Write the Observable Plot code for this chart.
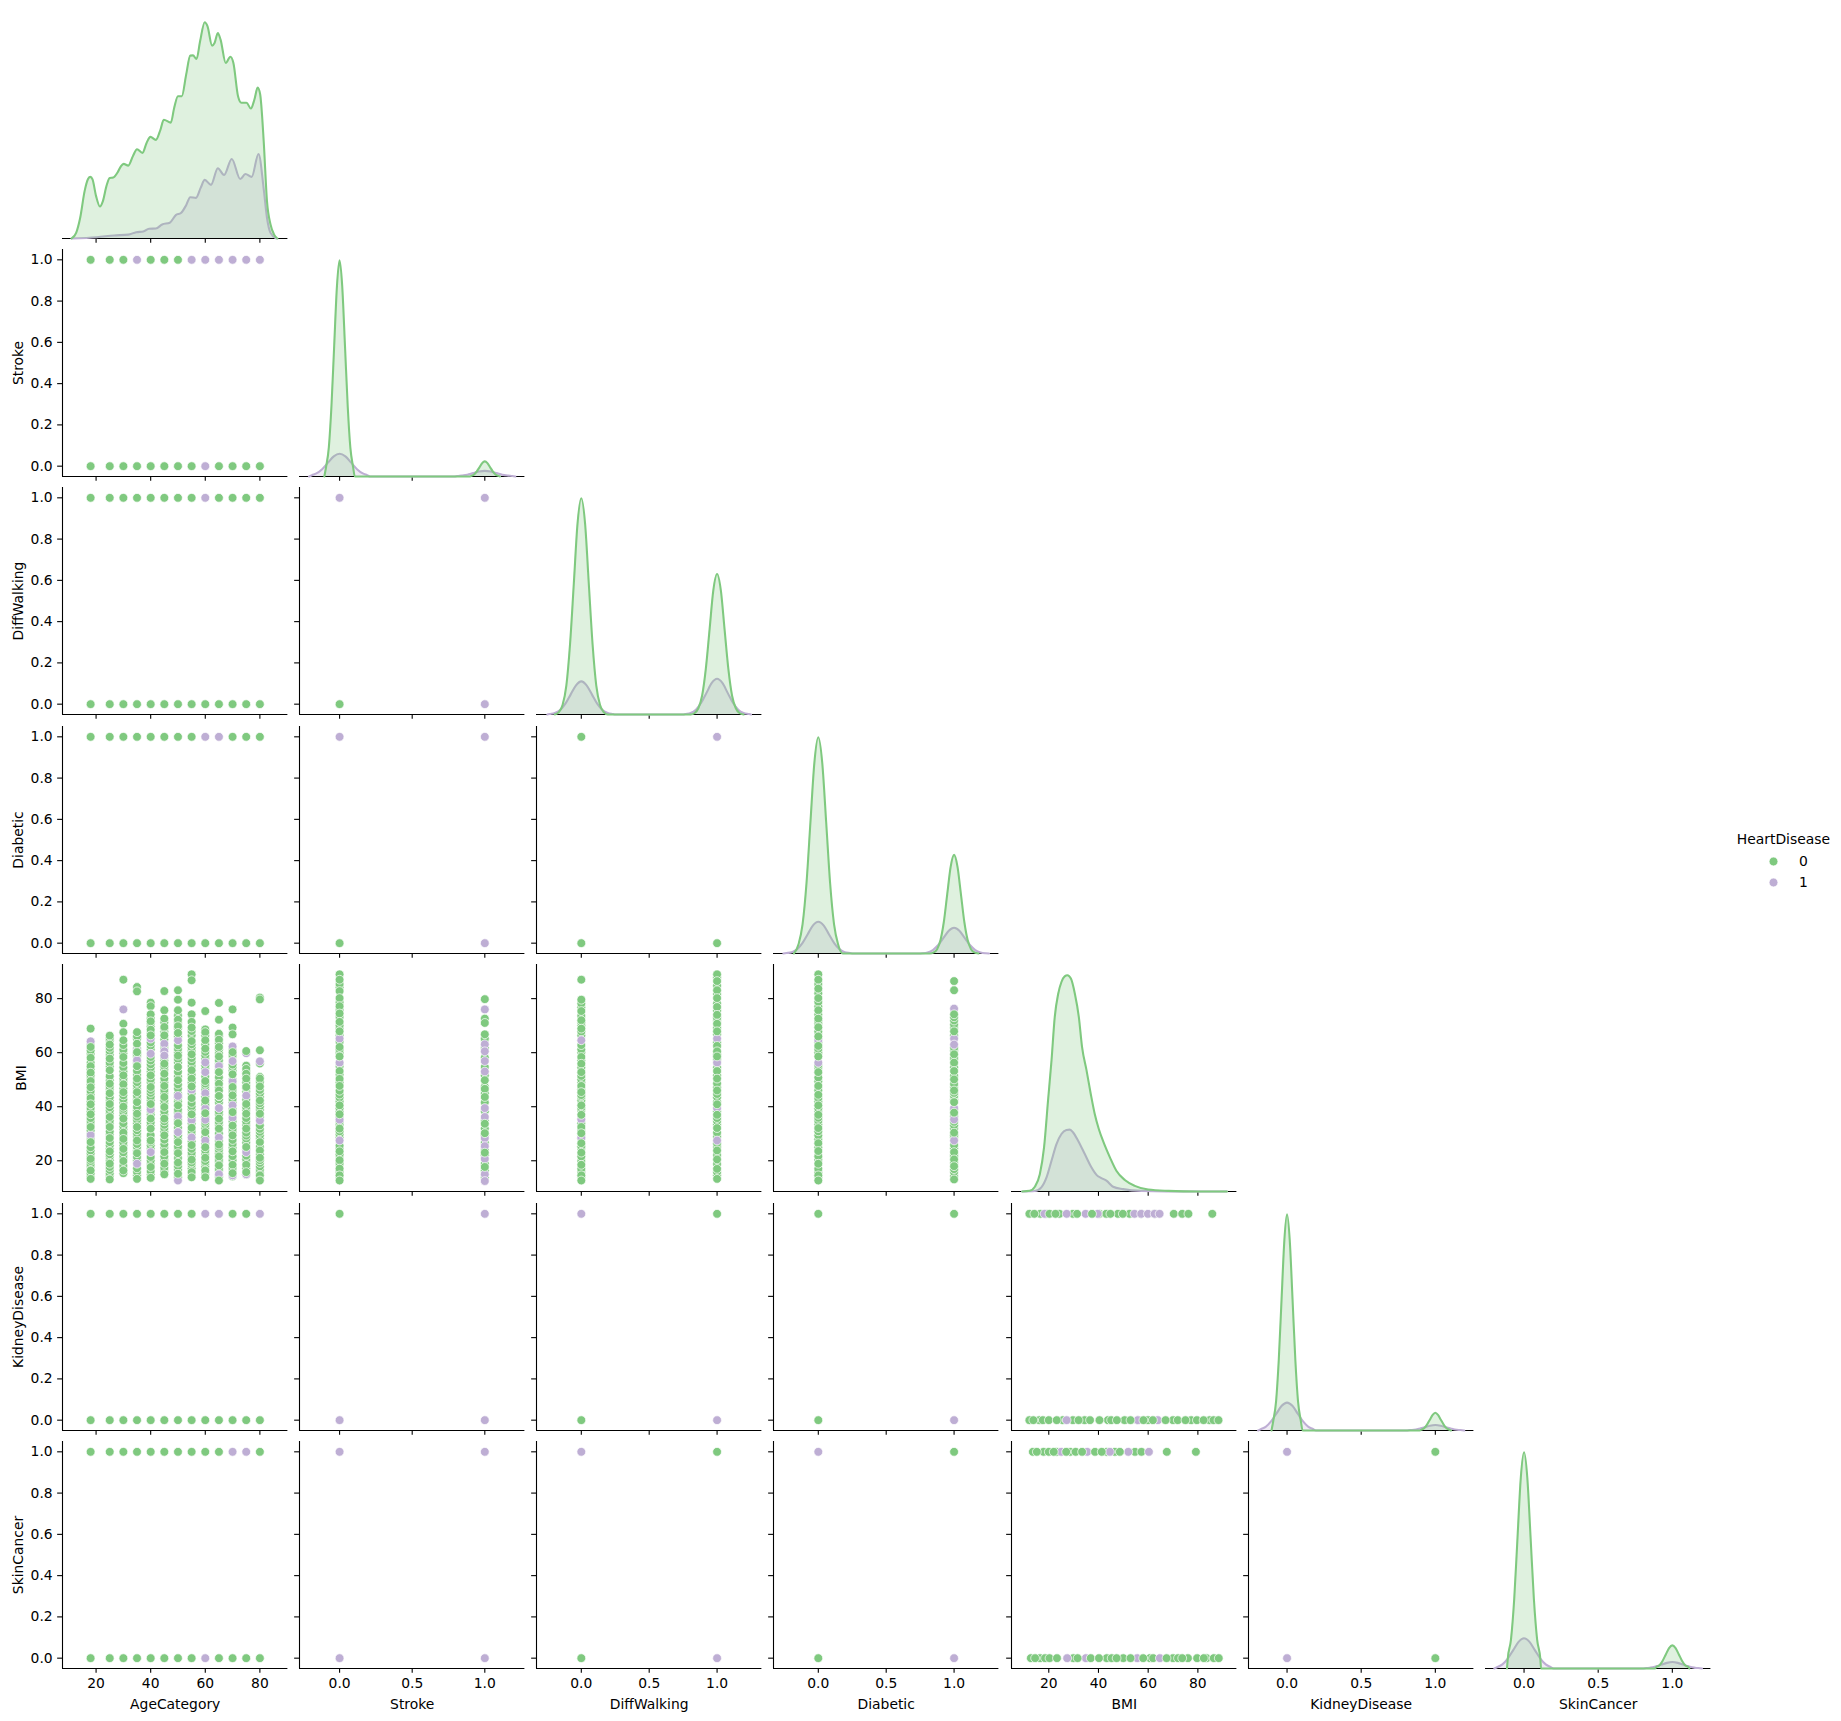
<!DOCTYPE html>
<html>
<head>
<meta charset="utf-8">
<script src="https://cdn.jsdelivr.net/npm/d3@7"></script>
<script src="https://cdn.jsdelivr.net/npm/@observablehq/plot@0.6"></script>
<style>
html,body{margin:0;padding:0;background:#fff}
#chart{position:relative;width:1841px;height:1721px;overflow:hidden}
#chart svg{position:absolute;overflow:visible;background:transparent}
</style>
</head>
<body>
<div id="chart"></div>
<script>
const variables = ["AgeCategory","Stroke","DiffWalking","Diabetic","BMI","KidneyDisease","SkinCancer"];
const hueValues = [0,1];
const hueColors = ["#7fc97f","#beaed4"];
const binaryTicks = [0,0.2,0.4,0.6,0.8,1];
const binaryXTicks = [0,0.5,1];
const bmiTicks = [20,40,60,80];
const ageTicks = [20,40,60,80];
const ages = [18,25,30,35,40,45,50,55,60,65,70,75,80];

// hue of the dot that ends up on top at (age, flag)
const ageStroke1 = [0,0,0,1,0,0,0,1,1,1,1,1,1];
const ageStroke0 = [0,0,0,0,0,0,0,0,1,0,0,0,0];
const ageWalk1   = [0,0,0,0,0,0,0,0,1,0,0,0,0];
const ageWalk0   = [0,0,0,0,0,0,0,0,0,0,0,0,0];
const ageDiab1   = [0,0,0,0,0,0,0,0,1,1,0,0,0];
const ageDiab0   = [0,0,0,0,0,0,0,0,0,0,0,0,0];
const ageKidney1 = [0,0,0,0,0,0,0,0,1,1,0,0,1];
const ageKidney0 = [0,0,0,0,0,0,0,0,0,0,0,0,0];
const ageSkin1   = [0,0,0,0,0,0,0,0,0,0,1,1,0];
const ageSkin0   = [0,0,0,0,0,0,0,0,1,0,0,0,0];

// hue on top at (x=0,y=1), (1,1), (0,0), (1,0)
const strokeWalk   = [1,1,0,1];
const strokeDiab   = [1,1,0,1];
const strokeKidney = [0,1,1,1];
const strokeSkin   = [1,1,1,1];
const walkDiab     = [0,1,0,0];
const walkKidney   = [1,0,0,1];
const walkSkin     = [1,0,0,1];
const diabKidney   = [0,0,0,1];
const diabSkin     = [1,0,0,1];
const kidneySkin   = [1,0,1,0];

// BMI by age: back layer (green), purple, front layer (green)
const bmi18Back = [14.2,15.3,16.8,17.9,18.8,19.9,21.6,22.7,23.8,25,27.8,28.9,30.1,31.2,33.6,34.7,35.8,38.3,39.5,42,44.4,45.8,48.3,50.7,51.6,53.9,56.3,59.6,60.8,63.2];
const bmi25Back = [14.5,15.4,16.6,17.7,20.2,21.6,22.4,24.6,25.7,26.9,29.6,30.8,33.7,34.8,37.4,38.6,39.8,42.2,43.5,46.3,47.4,49.8,51.3,54.9,56.3,59.2,60.6,61.8,64.6,65.4];
const bmi30Back = [15.4,16.9,18.1,20.9,21.8,23.1,25.6,26.8,29.2,31.6,32.7,33.9,36.8,38.1,39.2,41.5,42.8,44.2,46.7,49.6,50.4,53.1,54.6,56.2,59.7,61.1,62.8];
const bmi35Back = [14.6,15.9,17.2,20.2,21.4,23.8,25.1,26.2,28.9,30.1,31.3,33.8,35.2,36.3,38.7,39.9,42.8,44.1,46.6,47.9,49.1,51.8,53.3,56.2,58.6,59.4,61.5,65.2,66.1];
const bmi40Back = [14.9,16.2,18.8,20.1,21.4,24.4,25.7,26.9,28.2,29.5,33.1,34.2,37.1,38.4,39.6,42.4,43.7,45.1,46.2,49.1,50.2,53,54.4,55.7,57.1,58.4,61.2,62.6,63.8,67.1,69.8,70.9,72.8];
const bmi45Back = [16.2,17.4,20.3,21.6,24.8,26.1,27.8,30.8,32.1,33.3,34.6,37.1,38.3,41.2,42.4,45.1,46.2,49,50.4,53.7,55,57.1,58.4,61.8,62.8,64.9,67.9,69,71.2];
const bmi50Back = [13.9,16.7,18,21,23.9,25.2,28.1,29.4,31,32.2,35.1,37.8,38.9,42,43.4,44.8,46.7,48.2,51.2,52.9,56.4,57.7,60.1,61.4,62.7,66,69,71,73.8];
const bmi55Back = [14.4,17.1,18.6,19.4,21.8,23,24.4,27.1,29.9,31,33.8,35.4,36.1,39,40.1,41.4,44.9,46.3,49,51.8,55.1,56.6,58,60.7,61.9,63.1,66.4,68];
const bmi60Back = [14.9,15.6,17.8,19.2,19.9,22.5,23.8,26.4,28.7,31.9,33.4,34.4,36.1,39,40.5,41,43.8,46.2,47.8,48.6,51.1,54.1,55.3,57.8,59,60.3,63,66.4,68.6];
const bmi65Back = [14.1,16.4,17,19.6,20.4,22.8,24.1,25.2,27.4,30.1,33.3,34.3,37.2,38.2,41.6,42.8,43.9,47.1,49.7,50.9,53.8,55.9,57.2,59.9,61.3,63.5,66.1];
const bmi70Back = [14.2,16.7,17.4,20.2,21.7,24.9,26.2,27.7,30.8,31.8,34.6,36.9,39.2,41.6,42.9,45.6,46.4,48.8,49.9,53.4,54.6,55.6,58.6,59.2,61.4];
const bmi75Back = [14.9,17.2,19.6,20.6,21.9,24.2,26.7,28.2,29.3,30.4,33.2,34.5,35.8,38.8,39.9,42.6,45.6,46.8,47.9,49.1,51.2,52.5,53,55.2];
const bmi80Back = [13.6,15.6,16.7,17.9,19.2,20.2,22.4,25.1,28.2,29.4,30.7,31.8,33.1,36.2,38.9,40.1,41.3,43.7,45,46.2,49.2,51,56];
const bmi18Purple = [64.2,29.5];
const bmi25Purple = [];
const bmi30Purple = [76];
const bmi35Purple = [57.2,18.9,60.8];
const bmi40Purple = [65.2,59.6,23.2,39];
const bmi45Purple = [63.3,60.5,58.9];
const bmi50Purple = [64.6,44,36.4,30.6,12.7];
const bmi55Purple = [46.2,35,28.6];
const bmi60Purple = [56.4,52.8,45,39.3,35.2,27.5];
const bmi65Purple = [55,39.5,28.6,15];
const bmi70Purple = [62.3,56.9,49.4,40.5,35.9,14.6];
const bmi75Purple = [59.8,44.1,23.2,15];
const bmi80Purple = [56.8,34.9];
const bmi18Front = [68.9,62.1,58.1,55,52.6,49.5,47.2,43.2,40.9,37.2,32.5,26.9,20.7,16.4,13.3];
const bmi25Front = [66.3,63,57.8,53.5,48.5,45,41,36.2,32.5,28.4,23.5,18.9,13.1];
const bmi30Front = [87,70.7,67.6,64.6,58.4,51.6,48.3,45.4,40,35.6,30.4,28.1,24.4,19.9,16.4];
const bmi35Front = [84.3,82.7,67.6,63.3,60.2,55,50.4,45.4,41.7,37.4,32.5,27.5,22.8,13.3];
const bmi40Front = [78.5,77.2,74.2,71.6,68.5,66.4,51.6,47.3,41,35.6,31.9,27.5,17.7,13.7];
const bmi45Front = [82.8,75.7,72.6,69.5,66.4,55.9,52.2,47.7,43.6,39.9,35.6,29.4,23.2,18.9,15];
const bmi50Front = [83.1,79.6,75.7,72.2,69.8,67.3,58.9,54.7,49.8,40.5,33.9,26.9,22.8,19.3,15.2];
const bmi55Front = [89,86.8,78.5,74.2,71.4,69.3,64.3,59.4,53.5,50.4,47.5,43.2,37.2,32.2,25.8,20.4,15.8,13.9];
const bmi60Front = [75.4,67.6,64.6,61.5,49.5,42.3,37.6,30.6,25,21.1,16.4,13.9];
const bmi65Front = [78.4,72.2,67,64.8,62.1,58.6,52.8,48.5,46,44,35.6,31.9,26,21.6,18.3,12.7];
const bmi70Front = [76,69.3,66.8,60.2,52,47.3,44.2,38,33,29.4,23.5,18.5,15.4];
const bmi75Front = [60.6,54,52.2,50.4,47.3,41,37.4,31.9,25.1,18.5,15.8];
const bmi80Front = [80.4,79.7,60.9,50.4,47.5,42.3,37.4,26.9,23.8,21.1,14.6,12.7];

// dense stacks of BMI at each flag value
const bmiStroke0Back = [13.8,15.8,16.3,18.8,19.2,21.8,22.4,24.7,25.6,28.6,29.8,30.9,33.4,34.5,36,38.2,39.4,42,43.4,44.5,45.9,49,51.9,55,56.2,60.2,61.2,64,66.4,69.2,70.1,73.2,75.8,78.7,84.2,85.4];
const bmiStroke0Purple = [65.2,56.3,35.2,27.5];
const bmiStroke0Front = [89,87,82.8,80.2,77.2,74.5,71.4,67.9,62.1,58.6,53.2,50.3,47.7,40.5,37.2,31.9,23.5,20.2,17.1,14.6,12.7];
const bmiStroke1Back = [13.8,16.4,18.9,22,24,26.7,29.4,31.9,34.8,38.3,41.6,45,47.4,51.6,54.7,58.2,61.8,64.9,65.2];
const bmiStroke1Purple = [76,63.1,60.5,56.9,53,39.5,36.2,28.4,25.4,20.7,15,12.5];
const bmiStroke1Front = [79.8,72.6,71,66.8,49.8,46.6,43.6,33.7,30.2,23,17.7];
const bmiWalk0Back = [13.8,15.9,17,19.9,21.6,24.7,25.4,28.3,29.2,31.4,33.9,35.6,38.8,39.6,42.4,43.7,44.3,46.5,49,50.1,51.4,54.5,57.1,60.1,61.2,62.8,66.4,67.8,70.1,71.2,73.6,76.8,78.2];
const bmiWalk0Purple = [64.6,35.3,28.5];
const bmiWalk0Front = [87,79.6,75.4,72,68.9,58.4,55.9,52.8,47.7,45.4,40.5,37,32.5,30.2,26.5,23,18.5,14.6,12.7];
const bmiWalk1Back = [14.6,15.8,18.8,22.1,25.1,26.4,28.9,30.4,33.4,34.7,35.8,38.3,41.8,43.5,44.7,47.2,48.6,51.6,54.5,57.4,59.4,63.8,66.8,69.2,71.8,72.9,75.6,78.2,81.7,84.8,87.8];
const bmiWalk1Purple = [65.2,56.3,39.5,27.5];
const bmiWalk1Front = [89,86.5,83.1,80.2,76.9,74,70.7,67.9,62.5,60.5,58.6,53.2,50.4,46,40.9,37,32.1,23.8,20.5,17,13.3];
const bmiDiab0Back = [13.8,15.8,17,20.4,21.7,24.9,28,29.4,30.9,33.4,34.8,35.9,38.4,39.4,42,43.2,46.1,49.4,50.8,54.4,55.4,60.2,61.4,63.8,67.8,70.8,71.8,74.1,77.1,78.8,82,85.4];
const bmiDiab0Purple = [64.7,56.3];
const bmiDiab0Front = [89,87,83.7,80.2,75.7,72.6,69.4,66,62.5,58.6,52.8,47.7,44.4,40.5,37,32.1,26.5,23.6,18.9,14.6,12.7];
const bmiDiab1Back = [14.4,15.8,16.9,19.2,21.6,22.1,24.6,25.8,28.7,29.4,31.9,33.1,34.4,36.4,39,42.8,44,45.1,47.3,48.4,51.4,54.6,57.6,58.1,60.8,61.8,66.4,69.2,70.4,71.9,73.1];
const bmiDiab1Purple = [76.3,65.2,63,39.5,35.3,27.5];
const bmiDiab1Front = [86.5,83.1,74.2,67.9,59.4,56.3,53.2,50.1,46,41.7,37.8,30.4,23.2,20.5,18,13.1];

// BMI along the flag rows
const bmiKidney1Back = [16.6,18.9,24.3,29.7,40.4,43.1,47.8,52.5,57.2,62.6];
const bmiKidney1Purple = [18.3,27.2,34.8,39.7,54.5,57.2,59.9,62.6,64.6];
const bmiKidney1Front = [12.2,14.2,20.3,22.7,31.4,37.4,44.8,49.8,70.3,73.7,76.2,85.8];
const bmiKidney0Back = [16.2,17.6,25.6,29.7,34.4,43.8,45.1,50.5,55.8,59.9,70,77.3,84.7];
const bmiKidney0Purple = [27.2,55.8,63.9];
const bmiKidney0Front = [12.2,13.8,20,23.2,32,36.6,40.4,47.4,52.9,58.1,61.9,67,71.9,75,79.6,82.3,86.3,88.3];
const bmiSkin1Back = [13.6,17.9,23.2,28.6,43.3,46.6,54.7,57.3];
const bmiSkin1Purple = [25,35.5,44.6,52,60.3];
const bmiSkin1Front = [15.2,20,22,27,30.8,33.4,38.6,41.3,48.6,67.5,79.2];
const bmiSkin0Back = [16.5,18.5,29.9,43.3,45.3,50,60.7,62,70,72,76,83.5];
const bmiSkin0Purple = [27.4,34.9,55.6,64.7];
const bmiSkin0Front = [12.8,14.5,20.3,23.3,31.6,36.9,40.2,47.3,52.9,58,67.4,73.7,79.7,82.4,86.4,88.4];

// density curves read from the diagonal (peak of the tallest curve = 1)
const ageGreenX = [11.05,12.7,14.2,15.8,17.1,17.9,18.7,20,21.4,22.5,23.8,25,26.3,27.8,29.1,30.1,31.8,33.5,35,37,38.5,39.9,41.9,43.6,44.8,47.4,48.6,50,51.4,53,54.5,55.5,56.8,58.1,59.8,60.8,62.5,63.4,64.6,65.6,67.5,69.2,70.3,72,73.2,75.1,76.7,78,79.2,80.1,81.4,82.6,83.9,85.2,86.4];
const ageGreenY = [0,.026,.097,.219,.276,.285,.273,.196,.148,.173,.243,.28,.282,.304,.334,.345,.337,.381,.413,.396,.442,.47,.456,.504,.549,.536,.604,.658,.658,.758,.846,.847,.83,.912,1,.982,.892,.904,.95,.92,.812,.841,.812,.658,.628,.628,.601,.643,.698,.667,.45,.173,.065,.018,0];
const agePurpleX = [11.05,20.3,26.6,31.8,34.7,37.3,39.4,41.9,44.2,47,49.2,51.1,53,54.5,56.6,58.3,59.8,62.1,64.6,66.9,69.7,72.8,74.7,77,79.5,81.4,82.6,83.9,86];
const agePurpleY = [0,.006,.014,.018,.029,.032,.045,.046,.065,.073,.108,.118,.154,.191,.188,.234,.271,.248,.325,.294,.368,.275,.298,.285,.391,.23,.096,.026,0];
const bmiGreenX = [9.3,12.3,14.4,16.4,18.1,19.7,21.1,22.4,23.8,25.1,26.4,27.5,28.9,30.5,32.1,33.4,35.2,36.9,38.5,40.1,42.3,44.6,47.2,50.6,54.6,60,68.1,80.1,91.7];
const bmiGreenY = [0,.003,.022,.08,.204,.42,.606,.807,.915,.969,.995,1,.985,.915,.807,.668,.56,.451,.358,.29,.22,.158,.096,.053,.026,.009,.003,0,0];
const bmiPurpleX = [9.3,14.4,17,19.1,21.1,23.1,25.1,27.1,28.5,29.8,31.8,34.5,37.2,39.2,41.2,43.2,45.9,49.9,57.3,77.4,91.7];
const bmiPurpleY = [0,.002,.019,.065,.142,.219,.266,.284,.286,.273,.235,.173,.111,.077,.062,.05,.022,.011,.003,0,0];

const strokeGreenX = [-.105,-.093,-.074,-.056,-.037,-.018,0,.018,.037,.056,.074,.093,.105,.895,.907,.926,.944,.963,.982,1,1.018,1.037,1.056,1.074,1.093,1.105];
const strokeGreenY = [0,.044,.135,.325,.607,.882,1,.882,.607,.325,.135,.044,0,0,.003,.009,.023,.042,.062,.07,.062,.042,.023,.009,.003,0];
const strokePurpleX = [-.21,-.19,-.16,-.12,-.08,-.04,0,.04,.08,.12,.16,.19,.21,.79,.81,.84,.88,.92,.96,1,1.04,1.08,1.12,1.16,1.19,1.21];
const strokePurpleY = [0,.006,.014,.034,.064,.093,.105,.093,.064,.034,.014,.006,0,0,.002,.004,.008,.016,.023,.026,.023,.016,.008,.004,.002,0];

const walkGreenX = [-.195,-.165,-.138,-.11,-.083,-.055,-.028,0,.028,.055,.083,.11,.138,.165,.195,.805,.835,.862,.89,.917,.945,.972,1,1.028,1.055,1.083,1.11,1.138,1.165,1.195];
const walkGreenY = [0,.011,.044,.135,.325,.607,.882,1,.882,.607,.325,.135,.044,.011,0,0,.007,.029,.088,.211,.395,.573,.65,.573,.395,.211,.088,.029,.007,0];
const walkPurpleX = [-.25,-.234,-.195,-.156,-.117,-.078,-.039,0,.039,.078,.117,.156,.195,.234,.25,.75,.766,.805,.844,.883,.922,.961,1,1.039,1.078,1.117,1.156,1.195,1.234,1.25];
const walkPurpleY = [0,.002,.007,.021,.05,.093,.135,.153,.135,.093,.05,.021,.007,.002,0,0,.002,.007,.022,.054,.1,.146,.165,.146,.1,.054,.022,.007,.002,0];

const diabGreenX = [-.18,-.145,-.116,-.087,-.058,-.029,0,.029,.058,.087,.116,.145,.18,.82,.85,.875,.9,.925,.95,.975,1,1.025,1.05,1.075,1.1,1.125,1.15,1.18];
const diabGreenY = [0,.044,.135,.325,.607,.882,1,.882,.607,.325,.135,.044,0,0,.005,.02,.062,.148,.277,.402,.456,.402,.277,.148,.062,.02,.005,0];
const diabPurpleX = [-.257,-.234,-.195,-.156,-.117,-.078,-.039,0,.039,.078,.117,.156,.195,.234,.257,.743,.766,.805,.844,.883,.922,.961,1,1.039,1.078,1.117,1.156,1.195,1.234,1.257];
const diabPurpleY = [0,.002,.006,.02,.048,.089,.13,.147,.13,.089,.048,.02,.006,.002,0,0,.001,.005,.016,.039,.072,.105,.119,.105,.072,.039,.016,.005,.001,0];

const kidneyGreenX = [-.105,-.093,-.074,-.056,-.037,-.018,0,.018,.037,.056,.074,.093,.105,.895,.907,.926,.944,.963,.982,1,1.018,1.037,1.056,1.074,1.093,1.105];
const kidneyGreenY = [0,.044,.135,.325,.607,.882,1,.882,.607,.325,.135,.044,0,0,.004,.011,.027,.05,.072,.082,.072,.05,.027,.011,.004,0];
const kidneyPurpleX = [-.195,-.171,-.144,-.108,-.072,-.036,0,.036,.072,.108,.144,.171,.195,.805,.829,.856,.892,.928,.964,1,1.036,1.072,1.108,1.144,1.171,1.195];
const kidneyPurpleY = [0,.008,.017,.042,.078,.114,.129,.114,.078,.042,.017,.008,0,0,.002,.003,.008,.015,.022,.025,.022,.015,.008,.003,.002,0];

const skinGreenX = [-.115,-.11,-.088,-.066,-.044,-.022,0,.022,.044,.066,.088,.11,.115,.885,.89,.912,.934,.956,.978,1,1.022,1.044,1.066,1.088,1.11,1.115];
const skinGreenY = [0,.044,.135,.325,.607,.882,1,.882,.607,.325,.135,.044,0,0,.005,.014,.035,.065,.094,.107,.094,.065,.035,.014,.005,0];
const skinPurpleX = [-.2,-.175,-.146,-.11,-.073,-.037,0,.037,.073,.11,.146,.175,.2,.8,.825,.854,.89,.927,.963,1,1.037,1.073,1.11,1.146,1.175,1.2];
const skinPurpleY = [0,.008,.019,.046,.085,.123,.14,.123,.085,.046,.019,.008,0,0,.002,.004,.01,.018,.026,.03,.026,.018,.01,.004,.002,0];

// --- helpers ---
const zip = (xs, ys) => xs.map((x, i) => ({x, y: ys[i]}));
const colorScale = {type: "ordinal", domain: hueValues, range: hueColors};
const dotR = 4.4, dotEdge = 0.7;
const dotLayer = rows => Plot.dot(rows, {x: "x", y: "y", r: dotR, fill: "h", stroke: "white", strokeWidth: dotEdge});
const col = (x, ys, h) => ys.map(y => ({x, y, h}));
const row = (y, xs, h) => xs.map(x => ({x, y, h}));
const stack = (build, at, back, purple, front) => [dotLayer(build(at, back, 0)), dotLayer(build(at, purple, 1)), dotLayer(build(at, front, 0))];
const flagRow = (y, hues) => ages.map((x, i) => ({x, y, h: hues[i]}));
const cornerDots = h => [{x:0,y:1,h:h[0]},{x:1,y:1,h:h[1]},{x:0,y:0,h:h[2]},{x:1,y:0,h:h[3]}];
const kde = (gx, gy, px, py) => {
  const g = zip(gx, gy), p = zip(px, py), curve = "monotone-x";
  return [
    Plot.areaY(p, {x: "x", y1: 0, y2: "y", fill: hueColors[1], fillOpacity: 0.25, curve}),
    Plot.line(p, {x: "x", y: "y", stroke: hueColors[1], strokeWidth: 2.08, curve}),
    Plot.areaY(g, {x: "x", y1: 0, y2: "y", fill: hueColors[0], fillOpacity: 0.25, curve}),
    Plot.line(g, {x: "x", y: "y", stroke: hueColors[0], strokeWidth: 2.08, curve})
  ];
};

// --- layout of the grid ---
const colLeft = c => Math.round(62.1 + 237.1 * c);
const rowBottom = r => Math.round(237.5 + 238.4 * r);
const panelW = 225.4, panelH = 227;
const ml = 56, mr = 6, mt = 6, mb = 60;
const ageDomain = [7.7, 90.26], bmiXDomain = [5, 95.7], bmiYDomain = [8.63, 92.63];
const xDomains = [ageDomain, [-0.276,1.276], [-0.33,1.33], [-0.33,1.33], bmiXDomain, [-0.26,1.26], [-0.26,1.26]];
const xTicks = [ageTicks, binaryXTicks, binaryXTicks, binaryXTicks, bmiTicks, binaryXTicks, binaryXTicks];
const isInt = i => i === 0 || i === 4;
const yDomain = i => i === 4 ? bmiYDomain : [-0.05, 1.05];
const yTicks = i => i === 4 ? bmiTicks : binaryTicks;

const root = document.getElementById("chart");
function panel(r, c, marks) {
  const diag = r === c;
  const last = r === variables.length - 1;
  const first = c === 0;
  const xd = xDomains[c];
  const axes = [
    Plot.ruleY([diag ? 0 : yDomain(r)[0]], {stroke: "black", strokeWidth: 1.1}),
    last
      ? Plot.axisX({ticks: xTicks[c], tickSize: 4.86, tickPadding: 5, strokeWidth: 1.1, stroke: "black", fill: "black",
          tickFormat: isInt(c) ? d3.format("d") : d3.format(".1f"),
          label: variables[c], labelAnchor: "center", labelArrow: "none", labelOffset: 41})
      : Plot.axisX({ticks: xTicks[c], tickSize: 4.86, strokeWidth: 1.1, stroke: "black", fill: "none", label: null})
  ];
  if (!diag) {
    axes.push(Plot.ruleX([xd[0]], {stroke: "black", strokeWidth: 1.1}));
    axes.push(first
      ? Plot.axisY({ticks: yTicks(r), tickSize: 4.86, tickPadding: 5, strokeWidth: 1.1, stroke: "black", fill: "black",
          tickFormat: isInt(r) ? d3.format("d") : d3.format(".1f"),
          label: variables[r], labelAnchor: "center", labelArrow: "none", labelOffset: r === 4 ? 46.5 : 49.5})
      : Plot.axisY({ticks: yTicks(r), tickSize: 4.86, strokeWidth: 1.1, stroke: "black", fill: "none", label: null}));
  }
  const svg = Plot.plot({
    width: panelW + ml + mr, height: panelH + mt + mb,
    marginLeft: ml, marginRight: mr, marginTop: mt, marginBottom: mb,
    x: {domain: xd},
    y: diag ? {domain: [0, 1.05], axis: null} : {domain: yDomain(r)},
    color: colorScale,
    style: {fontFamily: "'DejaVu Sans', sans-serif", fontSize: "13.9px", color: "black", background: "transparent", overflow: "visible"},
    marks: [...axes, ...marks]
  });
  svg.style.left = (colLeft(c) - ml) + "px";
  svg.style.top = (rowBottom(r) - panelH - mt) + "px";
  root.appendChild(svg);
}

// diagonal
panel(0,0,kde(ageGreenX,ageGreenY,agePurpleX,agePurpleY));
panel(1,1,kde(strokeGreenX,strokeGreenY,strokePurpleX,strokePurpleY));
panel(2,2,kde(walkGreenX,walkGreenY,walkPurpleX,walkPurpleY));
panel(3,3,kde(diabGreenX,diabGreenY,diabPurpleX,diabPurpleY));
panel(4,4,kde(bmiGreenX,bmiGreenY,bmiPurpleX,bmiPurpleY));
panel(5,5,kde(kidneyGreenX,kidneyGreenY,kidneyPurpleX,kidneyPurpleY));
panel(6,6,kde(skinGreenX,skinGreenY,skinPurpleX,skinPurpleY));

// age column
panel(1,0,[dotLayer([...flagRow(1,ageStroke1),...flagRow(0,ageStroke0)])]);
panel(2,0,[dotLayer([...flagRow(1,ageWalk1),...flagRow(0,ageWalk0)])]);
panel(3,0,[dotLayer([...flagRow(1,ageDiab1),...flagRow(0,ageDiab0)])]);
panel(4,0,[
  ...stack(col,18,bmi18Back,bmi18Purple,bmi18Front),
  ...stack(col,25,bmi25Back,bmi25Purple,bmi25Front),
  ...stack(col,30,bmi30Back,bmi30Purple,bmi30Front),
  ...stack(col,35,bmi35Back,bmi35Purple,bmi35Front),
  ...stack(col,40,bmi40Back,bmi40Purple,bmi40Front),
  ...stack(col,45,bmi45Back,bmi45Purple,bmi45Front),
  ...stack(col,50,bmi50Back,bmi50Purple,bmi50Front),
  ...stack(col,55,bmi55Back,bmi55Purple,bmi55Front),
  ...stack(col,60,bmi60Back,bmi60Purple,bmi60Front),
  ...stack(col,65,bmi65Back,bmi65Purple,bmi65Front),
  ...stack(col,70,bmi70Back,bmi70Purple,bmi70Front),
  ...stack(col,75,bmi75Back,bmi75Purple,bmi75Front),
  ...stack(col,80,bmi80Back,bmi80Purple,bmi80Front)
]);
panel(5,0,[dotLayer([...flagRow(1,ageKidney1),...flagRow(0,ageKidney0)])]);
panel(6,0,[dotLayer([...flagRow(1,ageSkin1),...flagRow(0,ageSkin0)])]);

// stroke column
panel(2,1,[dotLayer(cornerDots(strokeWalk))]);
panel(3,1,[dotLayer(cornerDots(strokeDiab))]);
panel(4,1,[...stack(col,0,bmiStroke0Back,bmiStroke0Purple,bmiStroke0Front),...stack(col,1,bmiStroke1Back,bmiStroke1Purple,bmiStroke1Front)]);
panel(5,1,[dotLayer(cornerDots(strokeKidney))]);
panel(6,1,[dotLayer(cornerDots(strokeSkin))]);

// diffwalking column
panel(3,2,[dotLayer(cornerDots(walkDiab))]);
panel(4,2,[...stack(col,0,bmiWalk0Back,bmiWalk0Purple,bmiWalk0Front),...stack(col,1,bmiWalk1Back,bmiWalk1Purple,bmiWalk1Front)]);
panel(5,2,[dotLayer(cornerDots(walkKidney))]);
panel(6,2,[dotLayer(cornerDots(walkSkin))]);

// diabetic column
panel(4,3,[...stack(col,0,bmiDiab0Back,bmiDiab0Purple,bmiDiab0Front),...stack(col,1,bmiDiab1Back,bmiDiab1Purple,bmiDiab1Front)]);
panel(5,3,[dotLayer(cornerDots(diabKidney))]);
panel(6,3,[dotLayer(cornerDots(diabSkin))]);

// bmi column
panel(5,4,[...stack(row,1,bmiKidney1Back,bmiKidney1Purple,bmiKidney1Front),...stack(row,0,bmiKidney0Back,bmiKidney0Purple,bmiKidney0Front)]);
panel(6,4,[...stack(row,1,bmiSkin1Back,bmiSkin1Purple,bmiSkin1Front),...stack(row,0,bmiSkin0Back,bmiSkin0Purple,bmiSkin0Front)]);

// kidney column
panel(6,5,[dotLayer(cornerDots(kidneySkin))]);

// legend
const legend = Plot.plot({
  width: 110, height: 70, margin: 0,
  x: {domain: [0, 1], range: [43, 73], axis: null},
  y: {domain: [0, 1], range: [36, 57], axis: null},
  color: colorScale,
  style: {fontFamily: "'DejaVu Sans', sans-serif", fontSize: "13.9px", color: "black", background: "transparent", overflow: "visible"},
  marks: [
    Plot.text(["HeartDisease"], {x: () => 0.33, y: () => -1.05, text: d => d, fill: "black", fontSize: 13.9}),
    Plot.dot(hueValues, {x: () => 0, y: d => d, r: dotR, fill: d => d, stroke: "white", strokeWidth: dotEdge}),
    Plot.text(hueValues, {x: () => 1, y: d => d, text: d => String(d), fill: "black", fontSize: 13.9})
  ]
});
legend.style.left = "1730px";
legend.style.top = "825px";
root.appendChild(legend);
</script>
</body>
</html>
